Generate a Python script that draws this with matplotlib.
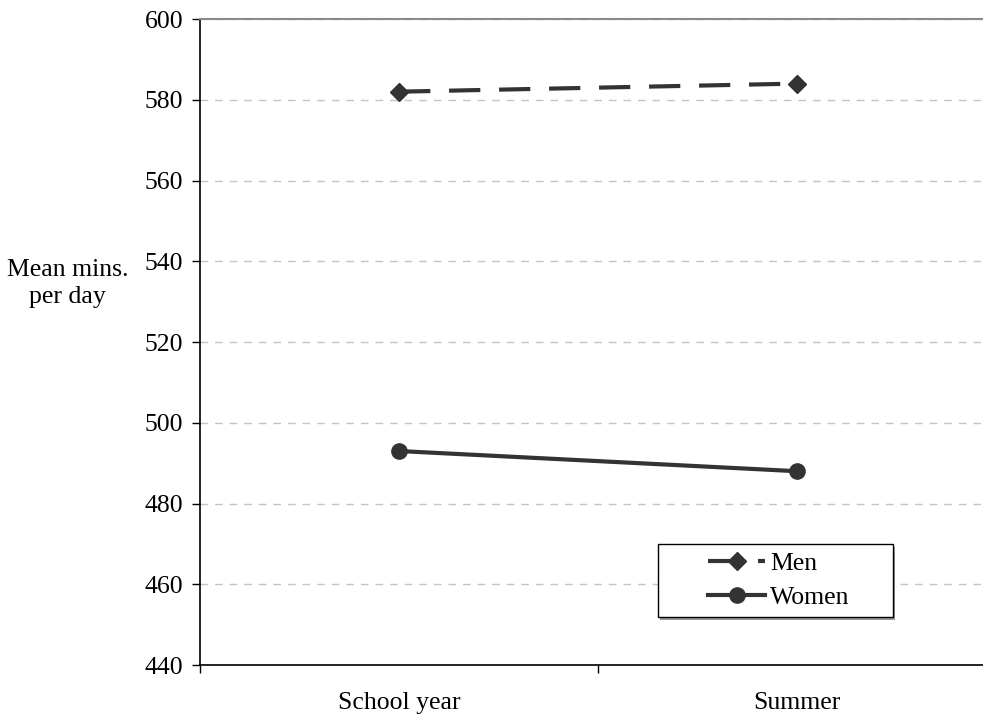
import matplotlib.pyplot as plt
from matplotlib.patches import Rectangle
from matplotlib.ticker import FixedLocator

# mean minutes per day, by period
periods = ['School year', 'Summer']
men = [582, 584]
women = [493, 488]
yticks = [440, 460, 480, 500, 520, 540, 560, 580, 600]

plt.rcParams['font.family'] = ['Liberation Serif', 'DejaVu Serif']
fs = 18.5

fig = plt.figure(figsize=(9.83, 7.17), dpi=100)
ax = fig.add_axes([0.2035, 0.0725, 0.81, 0.901])

xpos = [i + 0.5 for i in range(len(periods))]
ink = '#333333'

ax.plot(xpos, men, color=ink, lw=3, dashes=(7.5, 4.5), marker='D', ms=9,
        label='Men', zorder=3)
ax.plot(xpos, women, color=ink, lw=3, marker='o', ms=11,
        label='Women', zorder=3)

ax.set_xlim(0, len(periods))
ax.set_ylim(440, 600)
ax.set_yticks(yticks)
ax.grid(axis='y', color='#c4c4c4', lw=1, dashes=(5.5, 5))
ax.set_axisbelow(True)

# category boundaries get the tick marks, names sit between them
ax.xaxis.set_major_locator(FixedLocator(range(len(periods) + 1)))
ax.xaxis.set_minor_locator(FixedLocator(xpos))
ax.set_xticklabels([], minor=False)
ax.set_xticklabels(periods, minor=True)
ax.tick_params(axis='x', which='major', direction='out', length=6, width=1)
ax.tick_params(axis='x', which='minor', length=0, pad=19.5, labelsize=fs)
ax.tick_params(axis='y', direction='out', length=6, width=1, labelsize=fs, pad=6)

ax.spines['right'].set_visible(False)
ax.spines['top'].set_color('#8a8a8a')
ax.spines['top'].set_linewidth(1.5)
ax.spines['left'].set_linewidth(1.2)
ax.spines['bottom'].set_linewidth(1.2)

fig.text(0.069, 0.604, 'Mean mins.\nper day', ha='center', va='center',
         fontsize=fs, linespacing=1.3)

# legend box drawn separately so the entries can sit centred inside it
box_x, box_y, box_w, box_h = 0.5754, 0.0742, 0.2952, 0.1128
ax.add_patch(Rectangle((box_x + 0.002, box_y - 0.004), box_w, box_h,
                       transform=ax.transAxes, facecolor='#9a9a9a',
                       edgecolor='none', zorder=4))
ax.add_patch(Rectangle((box_x, box_y), box_w, box_h, transform=ax.transAxes,
                       facecolor='white', edgecolor='black', lw=1, zorder=5))
leg = ax.legend(loc='center', bbox_to_anchor=(box_x + box_w / 2 + 0.004,
                                               box_y + box_h / 2),
                fontsize=fs, frameon=False, handlelength=2.2,
                handletextpad=0.2, borderaxespad=0, borderpad=0,
                labelspacing=0.45)
leg.set_zorder(6)

fig.savefig('out.png', dpi=100)
